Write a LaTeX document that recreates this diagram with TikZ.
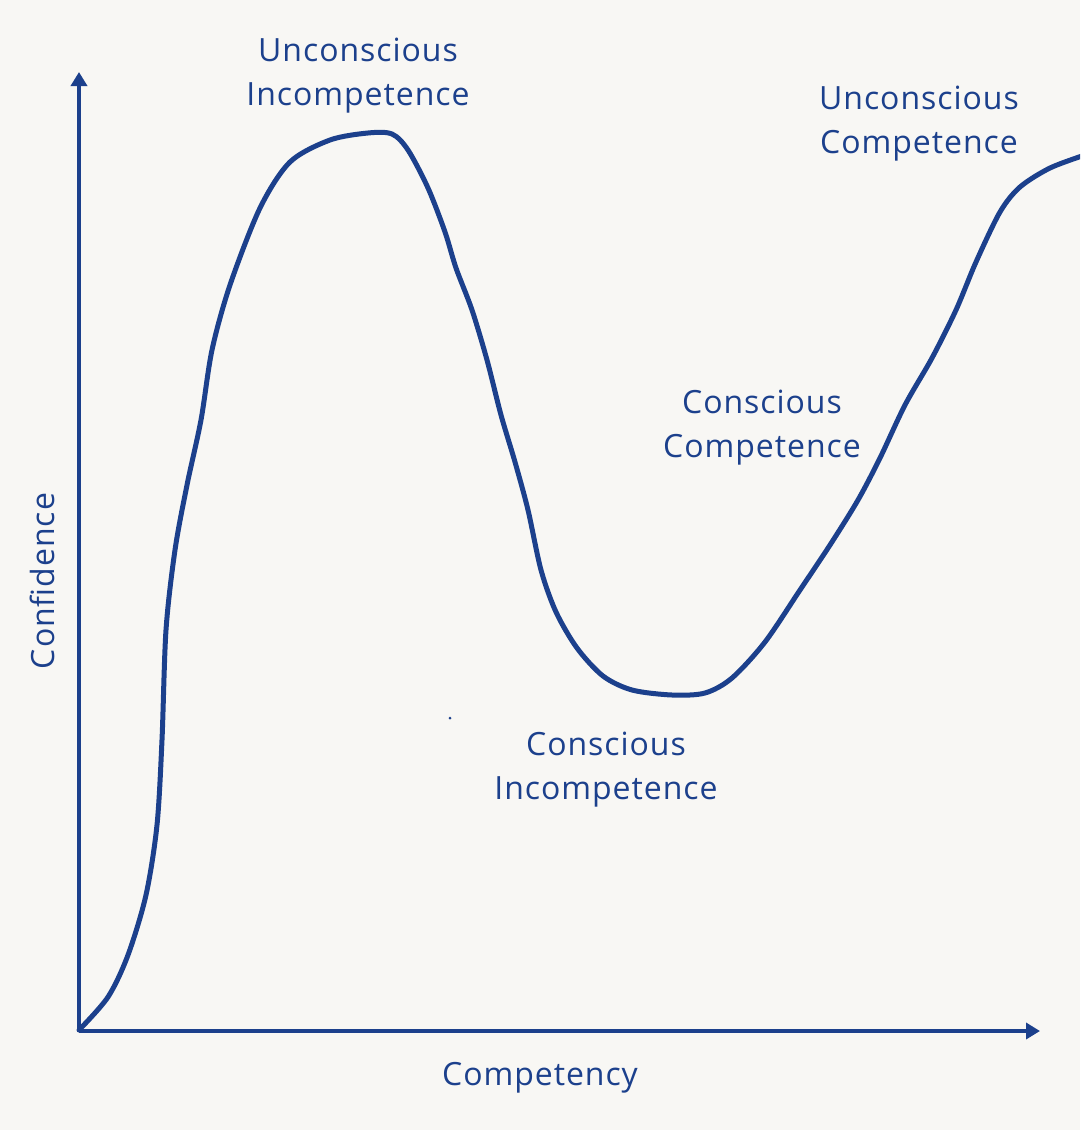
\documentclass[tikz,border=0pt]{standalone}
\usepackage{fontspec}
\setmainfont[LetterSpace=3]{Open Sans}
\usetikzlibrary{arrows.meta}
\definecolor{ink}{RGB}{28,64,140}
\definecolor{bg}{RGB}{248,247,244}
\begin{document}
\begin{tikzpicture}[x=1pt,y=-1pt,
  lbl/.style={text=ink,font=\fontsize{32}{44}\selectfont,align=center,inner sep=0pt},
  axis/.style={draw=ink,line width=4pt,-{Triangle[length=14pt,width=16pt]}},
  curve/.style={draw=ink,line width=5pt,line cap=round,line join=round}]
\fill[bg] (0,0) rectangle (1080,1130);
\useasboundingbox (0,0) rectangle (1080,1130);
\coordinate (O) at (79,1031);
\coordinate (ytop) at (79,72);
\coordinate (xend) at (1040,1031);
\draw[axis] (O) -- (ytop);
\draw[axis] (O) -- (xend);
\begin{scope}
\clip (0,0) rectangle (1080,1130);
\draw[curve] plot[smooth,tension=0.5] coordinates {
(79,1030) (108,997) (128,955) (146,895) (157,825) (162,740) (166,630) (175,550) (187,485) (201,420) (212,350) (230,285) (260,208) (290,162) (330,140) (368,133) (392,134) (408,150) (428,188) (445,232) (456,268) (472,310) (487,360) (501,415) (515,462) (528,510) (541,570) (556,612) (577,648) (603,676) (632,690) (672,695) (705,693) (732,678) (765,642) (800,590) (830,545) (858,500) (880,458) (905,405) (932,358) (956,310) (976,262) (1000,212) (1020,187) (1050,168) (1085,155)};
\end{scope}
\fill[ink] (450,718) circle (1.5pt);
\node[lbl] (ui) at (358,76) {Unconscious\\Incompetence};
\node[lbl] (uc) at (919,124) {Unconscious\\Competence};
\node[lbl] (cc) at (762,428) {Conscious\\Competence};
\node[lbl] (ci) at (606,770) {Conscious\\Incompetence};
\node[lbl] (xl) at (540,1078) {Competency};
\node[lbl,rotate=90] (yl) at (42,581) {Confidence};
\end{tikzpicture}
\end{document}
